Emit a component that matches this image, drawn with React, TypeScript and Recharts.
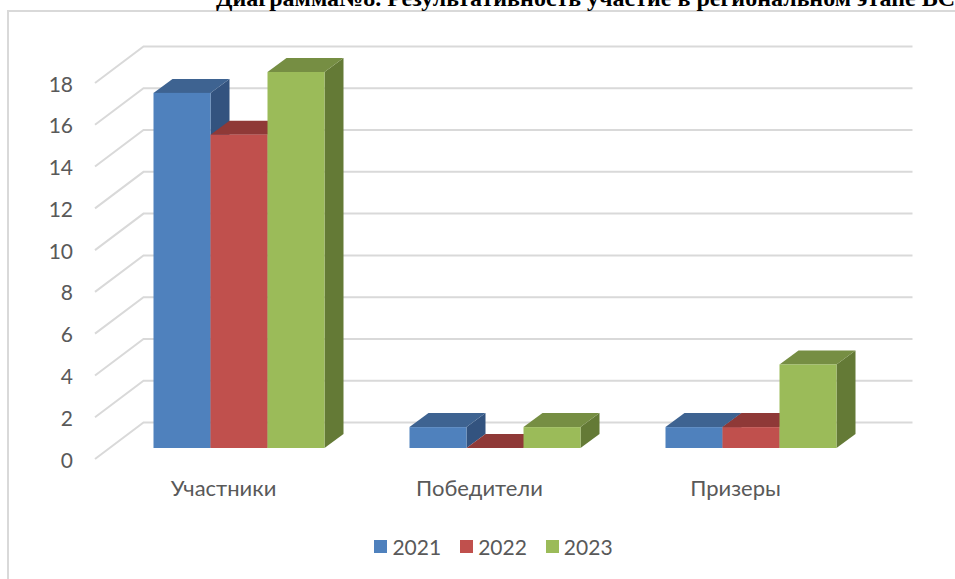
import { BarChart, Bar, XAxis, YAxis, CartesianGrid, Legend } from "recharts"

const CATEGORIES = ["Участники", "Победители", "Призеры"]
const VALUES_2021 = [17, 1, 1]
const VALUES_2022 = [15, 0, 1]
const VALUES_2023 = [18, 1, 4]
const Y_TICKS = [0, 2, 4, 6, 8, 10, 12, 14, 16, 18]
const TITLE = "Диаграмма№8. Результативность участие в региональном этапе ВСОШ"

const data = CATEGORIES.map((name, i) => ({
  name,
  y2021: VALUES_2021[i],
  y2022: VALUES_2022[i],
  y2023: VALUES_2023[i],
}))

const series = [
  { key: "y2021", label: "2021", front: "#4f81bd", top: "#3e6391", side: "#33537f" },
  { key: "y2022", label: "2022", front: "#c0504d", top: "#8f3937", side: "#7d302e" },
  { key: "y2023", label: "2023", front: "#9bbb59", top: "#768e43", side: "#647a36" },
]

const DEPTH_X = 19
const DEPTH_Y = 14
const FONT = "Lato, sans-serif"
const TEXT_COLOR = "#595959"

// fake 3d column: front face plus top and right side
const makeBox = (front: string, top: string, side: string) => (props: any) => {
  const { x, y, width, height } = props
  const r = x + width
  const b = y + height
  return (
    <g>
      <polygon points={`${r},${y} ${r + DEPTH_X},${y - DEPTH_Y} ${r + DEPTH_X},${b - DEPTH_Y} ${r},${b}`} fill={side} />
      <polygon points={`${x},${y} ${x + DEPTH_X},${y - DEPTH_Y} ${r + DEPTH_X},${y - DEPTH_Y} ${r},${y}`} fill={top} />
      {height > 0 && <rect x={x} y={y} width={width} height={height} fill={front} />}
    </g>
  )
}

// back wall line plus the diagonal going to the floor edge
const GridLine = (props: any) => {
  const { x1, y1, index } = props
  const backX = x1 + 33
  const backY = y1 - 25.5
  return (
    <path
      key={index}
      d={`M${x1 - 15.5},${y1 + 11} L${backX},${backY} L${backX + 769},${backY}`}
      fill="none"
      stroke="#d9d9d9"
      strokeWidth={2}
    />
  )
}

const YTick = (props: any) => (
  <text x={73} y={props.y + 19.5} textAnchor="end" fontFamily={FONT} fontSize={21} fill={TEXT_COLOR}>
    {props.payload.value}
  </text>
)

const XTick = (props: any) => (
  <text x={props.x - 15} y={496} textAnchor="middle" fontFamily={FONT} fontSize={22} fill={TEXT_COLOR}>
    {props.payload.value}
  </text>
)

const LegendContent = () => (
  <div style={{ display: "flex", justifyContent: "center", gap: 19, fontFamily: FONT, fontSize: 21, color: TEXT_COLOR }}>
    {series.map((s) => (
      <div key={s.key} style={{ display: "flex", alignItems: "center", gap: 5 }}>
        <span style={{ width: 13, height: 13, background: s.front, display: "inline-block" }} />
        <span>{s.label}</span>
      </div>
    ))}
  </div>
)

export default function App() {
  return (
    <div style={{ position: "fixed", left: 0, top: 0, width: 955, height: 579, overflow: "hidden", background: "#fff" }}>
      <div style={{ position: "absolute", left: 7, top: 10, width: 1000, height: 600, border: "2px solid #d9d9d9", boxSizing: "border-box" }} />
      <div
        style={{
          position: "absolute",
          left: 216,
          top: -15,
          whiteSpace: "nowrap",
          fontFamily: "'Liberation Serif', serif",
          fontWeight: "bold",
          fontSize: 24,
          color: "#000",
        }}
      >
        {TITLE}
      </div>
      <div style={{ position: "absolute", left: 0, top: 0 }}>
        <BarChart
          width={955}
          height={579}
          data={data}
          margin={{ top: 72, right: 76.5, bottom: 76, left: 70.5 }}
          barSize={57}
          barGap={0}
          barCategoryGap={42.5}
        >
          <CartesianGrid vertical={false} horizontal={GridLine} />
          <XAxis dataKey="name" axisLine={false} tickLine={false} tick={XTick} height={30} interval={0} />
          <YAxis domain={[0, 18]} ticks={Y_TICKS} axisLine={false} tickLine={false} tick={YTick} width={40} interval={0} />
          <Legend
            content={LegendContent}
            wrapperStyle={{ position: "absolute", left: 0, top: 534, width: 987 }}
          />
          {series.map((s) => (
            <Bar
              key={s.key}
              dataKey={s.key}
              name={s.label}
              fill={s.front}
              isAnimationActive={false}
              shape={makeBox(s.front, s.top, s.side)}
            />
          ))}
        </BarChart>
      </div>
    </div>
  )
}
